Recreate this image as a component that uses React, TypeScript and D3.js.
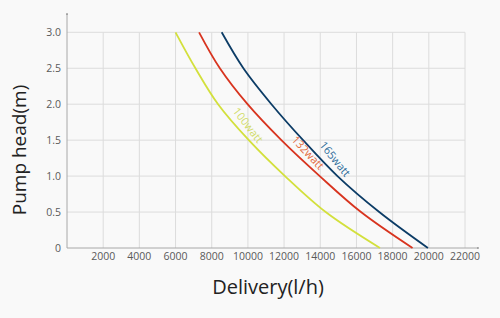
import React from "react";
import * as d3 from "d3";

const heads = [3.0, 2.5, 2.0, 1.5, 1.0, 0.5, 0];
const flow100 = [6000, 7100, 8350, 10050, 12050, 14300, 17300];
const flow132 = [7300, 8450, 9980, 11850, 13970, 16250, 19100];
const flow165 = [8550, 9750, 11300, 13050, 14950, 17260, 19950];
const xTicks = [2000, 4000, 6000, 8000, 10000, 12000, 14000, 16000, 18000, 20000, 22000];
const yTicks = [0, 0.5, 1.0, 1.5, 2.0, 2.5, 3.0];
const yTickLabels = ["0", "0.5", "1.0", "1.5", "2.0", "2.5", "3.0"];

const series = [
  { name: "100watt", flows: flow100, color: "#d3e03c", labelColor: "#d2dc6a", labelAt: 1.63, angle: 52, off: 9 },
  { name: "132watt", flows: flow132, color: "#d8341f", labelColor: "#e26a3c", labelAt: 1.24, angle: 47, off: 9 },
  { name: "165watt", flows: flow165, color: "#0c3c66", labelColor: "#2d6c9a", labelAt: 1.15, angle: 51, off: 10 },
];

export default function App() {
  const W = 500, H = 318;
  const x = d3.scaleLinear().domain([0, 22000]).range([67, 465]);
  const y = d3.scaleLinear().domain([0, 3]).range([248, 32.3]);
  const font = "'Open Sans', 'Noto Sans', sans-serif";

  const line = d3
    .line<[number, number]>()
    .x((d) => x(d[0]))
    .y((d) => y(d[1]))
    .curve(d3.curveCatmullRom.alpha(0.5));

  return (
    <svg width={W} height={H} style={{ position: "absolute", left: 0, top: 0, background: "#f9f9f9" }}>
      <rect x={0} y={0} width={W} height={H} fill="#f9f9f9" />
      {xTicks.map((t) => (
        <line key={"gx" + t} x1={x(t)} x2={x(t)} y1={y(0)} y2={y(3)} stroke="#dcdcdc" strokeWidth={1} />
      ))}
      {yTicks.slice(1).map((t) => (
        <line key={"gy" + t} x1={x(0)} x2={x(22000)} y1={y(t)} y2={y(t)} stroke="#dcdcdc" strokeWidth={1} />
      ))}
      <line x1={x(0)} x2={x(0)} y1={y(0)} y2={14} stroke="#a8a8a8" strokeWidth={1} />
      <line x1={x(0)} x2={478} y1={y(0)} y2={y(0)} stroke="#a8a8a8" strokeWidth={1} />
      <line x1={x(0) - 1} x2={x(0) + 1} y1={14} y2={14} stroke="#777" strokeWidth={1} />
      <line x1={478} x2={478} y1={y(0) - 1} y2={y(0) + 1} stroke="#777" strokeWidth={1} />
      {yTicks.map((t, i) => (
        <text key={"ty" + t} x={61} y={y(t)} dy="0.35em" textAnchor="end" fontSize={10.5} fill="#5a5a5a" fontFamily={font}>
          {yTickLabels[i]}
        </text>
      ))}
      {xTicks.map((t) => (
        <text key={"tx" + t} x={x(t)} y={260} textAnchor="middle" fontSize={10.5} fill="#5a5a5a" fontFamily={font}>
          {t}
        </text>
      ))}
      {series.map((s) => (
        <path
          key={s.name}
          d={line(heads.map((h, i) => [s.flows[i], h] as [number, number])) || ""}
          fill="none"
          stroke={s.color}
          strokeWidth={1.8}
        />
      ))}
      {series.map((s) => {
        const interp = d3.scaleLinear().domain(heads).range(s.flows);
        const px = x(interp(s.labelAt));
        const py = y(s.labelAt);
        const a = (s.angle * Math.PI) / 180;
        const lx = px + Math.sin(a) * s.off;
        const ly = py - Math.cos(a) * s.off;
        return (
          <text
            key={"l" + s.name}
            x={lx}
            y={ly}
            textAnchor="middle"
            dy="0.35em"
            fontSize={11}
            fill={s.labelColor}
            fontFamily={font}
            transform={`rotate(${s.angle} ${lx} ${ly})`}
          >
            {s.name}
          </text>
        );
      })}
      <text x={268} y={294} textAnchor="middle" fontSize={20} fill="#222" fontFamily={font}>
        Delivery(l/h)
      </text>
      <text
        x={0}
        y={0}
        textAnchor="middle"
        fontSize={19}
        fill="#222"
        fontFamily={font}
        transform={`translate(26 150) rotate(-90)`}
      >
        Pump head(m)
      </text>
    </svg>
  );
}
